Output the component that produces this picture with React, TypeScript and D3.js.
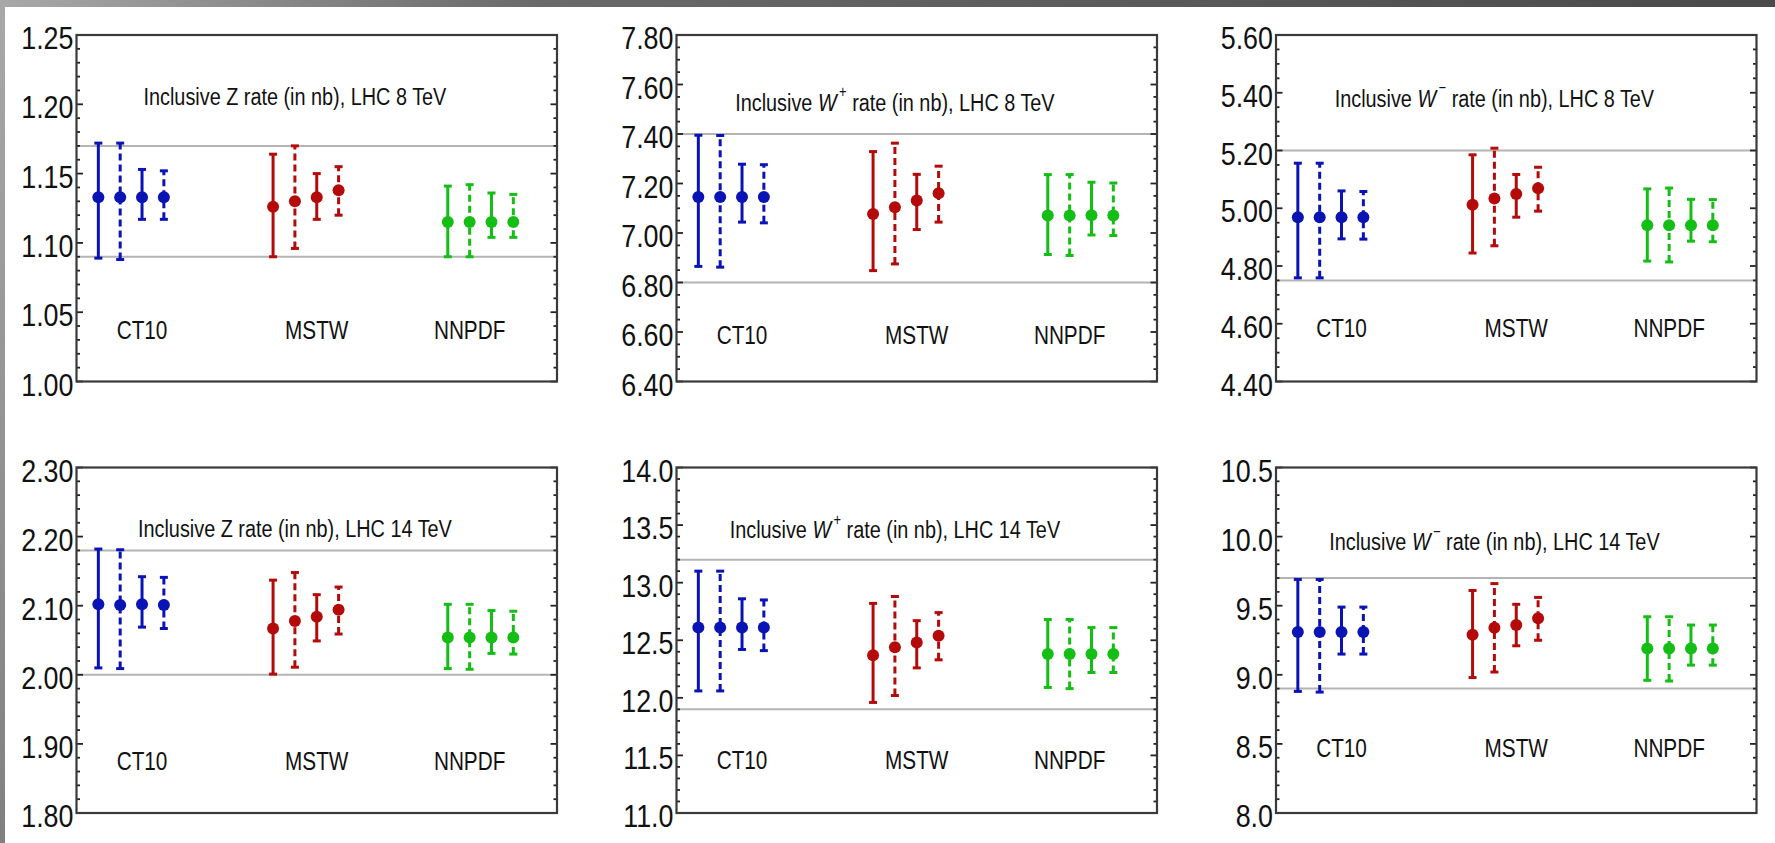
import React from "react";
import * as d3 from "d3";

// ---------- data ----------
const pdfSets = ["CT10", "MSTW", "NNPDF"];
const slotX = [1, 2, 3, 4, 9, 10, 11, 12, 17, 18, 19, 20];
const slotDashed = [false, true, false, true, false, true, false, true, false, true, false, true];
const slotSet = [0, 0, 0, 0, 1, 1, 1, 1, 2, 2, 2, 2];
const setLabelX = [3, 11, 18];
const setColors = ["#0a14b4", "#b40a0a", "#14be14"];

// Z, LHC 8 TeV
const z8Central = [1.133, 1.133, 1.133, 1.133, 1.126, 1.130, 1.133, 1.138, 1.115, 1.115, 1.115, 1.115];
const z8Upper = [1.172, 1.172, 1.153, 1.152, 1.164, 1.170, 1.150, 1.155, 1.141, 1.142, 1.136, 1.135];
const z8Lower = [1.089, 1.088, 1.117, 1.117, 1.090, 1.096, 1.117, 1.120, 1.090, 1.090, 1.104, 1.104];
const z8Ref = [1.09, 1.17];
const z8Ticks = ["1.00", "1.05", "1.10", "1.15", "1.20", "1.25"];

// W+, LHC 8 TeV
const wp8Central = [7.145, 7.145, 7.145, 7.145, 7.077, 7.104, 7.131, 7.161, 7.071, 7.071, 7.072, 7.071];
const wp8Upper = [7.395, 7.394, 7.278, 7.276, 7.329, 7.363, 7.237, 7.270, 7.236, 7.236, 7.205, 7.202];
const wp8Lower = [6.865, 6.862, 7.044, 7.041, 6.848, 6.875, 7.014, 7.044, 6.913, 6.909, 6.992, 6.990];
const wp8Ref = [6.8, 7.4];
const wp8Ticks = ["6.40", "6.60", "6.80", "7.00", "7.20", "7.40", "7.60", "7.80"];

// W-, LHC 8 TeV
const wm8Central = [4.969, 4.969, 4.969, 4.969, 5.012, 5.034, 5.049, 5.069, 4.941, 4.941, 4.941, 4.941];
const wm8Upper = [5.156, 5.156, 5.060, 5.058, 5.185, 5.208, 5.117, 5.142, 5.067, 5.070, 5.031, 5.030];
const wm8Lower = [4.759, 4.759, 4.894, 4.893, 4.845, 4.870, 4.969, 4.990, 4.817, 4.814, 4.886, 4.884];
const wm8Ref = [4.75, 5.2];
const wm8Ticks = ["4.40", "4.60", "4.80", "5.00", "5.20", "5.40", "5.60"];

// Z, LHC 14 TeV
const z14Central = [2.102, 2.101, 2.102, 2.101, 2.067, 2.078, 2.084, 2.094, 2.054, 2.054, 2.054, 2.054];
const z14Upper = [2.182, 2.181, 2.142, 2.141, 2.137, 2.148, 2.116, 2.127, 2.102, 2.102, 2.093, 2.092];
const z14Lower = [2.010, 2.009, 2.069, 2.067, 2.001, 2.011, 2.049, 2.059, 2.009, 2.008, 2.031, 2.030];
const z14Ref = [2.0, 2.18];
const z14Ticks = ["1.80", "1.90", "2.00", "2.10", "2.20", "2.30"];

// W+, LHC 14 TeV
const wp14Central = [12.61, 12.61, 12.61, 12.61, 12.37, 12.44, 12.48, 12.54, 12.38, 12.38, 12.38, 12.38];
const wp14Upper = [13.10, 13.10, 12.86, 12.85, 12.82, 12.88, 12.67, 12.74, 12.68, 12.68, 12.61, 12.61];
const wp14Lower = [12.06, 12.06, 12.42, 12.41, 11.96, 12.02, 12.26, 12.33, 12.09, 12.08, 12.22, 12.22];
const wp14Ref = [11.9, 13.2];
const wp14Ticks = ["11.0", "11.5", "12.0", "12.5", "13.0", "13.5", "14.0"];

// W-, LHC 14 TeV
const wm14Central = [9.31, 9.31, 9.31, 9.31, 9.29, 9.34, 9.36, 9.41, 9.19, 9.19, 9.19, 9.19];
const wm14Upper = [9.69, 9.69, 9.49, 9.49, 9.61, 9.66, 9.51, 9.56, 9.42, 9.42, 9.36, 9.36];
const wm14Lower = [8.88, 8.875, 9.15, 9.15, 8.98, 9.02, 9.21, 9.25, 8.96, 8.955, 9.07, 9.07];
const wm14Ref = [8.9, 9.7];
const wm14Ticks = ["8.0", "8.5", "9.0", "9.5", "10.0", "10.5"];

type Panel = {
  boson: string;
  sup: string;
  energy: string;
  central: number[];
  upper: number[];
  lower: number[];
  ref: number[];
  ticks: string[];
  minorStep: number;
  titleY: number;
  labelY: number;
};

const panels: Panel[] = [
  { boson: "Z", sup: "", energy: "8", central: z8Central, upper: z8Upper, lower: z8Lower, ref: z8Ref, ticks: z8Ticks, minorStep: 0.01, titleY: 1.206, labelY: 1.037 },
  { boson: "W", sup: "+", energy: "8", central: wp8Central, upper: wp8Upper, lower: wp8Lower, ref: wp8Ref, ticks: wp8Ticks, minorStep: 0.05, titleY: 7.53, labelY: 6.585 },
  { boson: "W", sup: "\u2212", energy: "8", central: wm8Central, upper: wm8Upper, lower: wm8Lower, ref: wm8Ref, ticks: wm8Ticks, minorStep: 0.05, titleY: 5.382, labelY: 4.585 },
  { boson: "Z", sup: "", energy: "14", central: z14Central, upper: z14Upper, lower: z14Lower, ref: z14Ref, ticks: z14Ticks, minorStep: 0.02, titleY: 2.212, labelY: 1.875 },
  { boson: "W", sup: "+", energy: "14", central: wp14Central, upper: wp14Upper, lower: wp14Lower, ref: wp14Ref, ticks: wp14Ticks, minorStep: 0.1, titleY: 13.46, labelY: 11.46 },
  { boson: "W", sup: "\u2212", energy: "14", central: wm14Central, upper: wm14Upper, lower: wm14Lower, ref: wm14Ref, ticks: wm14Ticks, minorStep: 0.1, titleY: 9.965, labelY: 8.47 },
];

// ---------- layout ----------
const W = 1775;
const H = 843;
const colLeft = [76.5, 676.5, 1276];
const panelW = 480.5;
const rowTop = [35, 467.5];
const rowBottom = [381.5, 813];
const FONT = "'Liberation Sans', Arial, Helvetica, sans-serif";

function PanelView({ p, idx }: { p: Panel; idx: number }) {
  const col = idx % 3;
  const row = Math.floor(idx / 3);
  const x0 = colLeft[col];
  const x1 = x0 + panelW;
  const y0 = rowTop[row];
  const y1 = rowBottom[row];
  const tickVals = p.ticks.map(Number);
  const lo = tickVals[0];
  const hi = tickVals[tickVals.length - 1];
  const x = d3.scaleLinear().domain([0, 22]).range([x0, x1]);
  const y = d3.scaleLinear().domain([lo, hi]).range([y1, y0]);
  const nMinor = Math.round((hi - lo) / p.minorStep);
  const minor = d3.range(nMinor + 1).map((i) => lo + i * p.minorStep);
  const majorStep = tickVals[1] - tickVals[0];
  const isMajor = (v: number) => Math.abs((v - lo) / majorStep - Math.round((v - lo) / majorStep)) < 1e-6;

  const tx = x(10);
  const ty = y(p.titleY);
  return (
    <g>
      {p.ref.map((r, i) => (
        <line key={"r" + i} x1={x0} x2={x1} y1={y(r)} y2={y(r)} stroke="#b4b4b4" strokeWidth={2} />
      ))}
      {minor.map((v, i) => {
        const len = isMajor(v) ? 6.5 : 3.5;
        const yy = y(v);
        return (
          <g key={"t" + i}>
            <line x1={x0} x2={x0 + len} y1={yy} y2={yy} stroke="#222" strokeWidth={1.8} />
            <line x1={x1} x2={x1 - len} y1={yy} y2={yy} stroke="#222" strokeWidth={1.8} />
          </g>
        );
      })}
      <rect x={x0} y={y0} width={x1 - x0} height={y1 - y0} fill="none" stroke="#3a3a3a" strokeWidth={2.2} />
      {p.ticks.map((t, i) => (
        <text
          key={"l" + i}
          transform={`translate(${x0 - 3},${y(tickVals[i]) + 14}) scale(0.84,1)`}
          textAnchor="end"
          fontFamily={FONT}
          fontSize={32}
          fill="#111"
        >
          {t}
        </text>
      ))}
      <text
        transform={`translate(${tx},${ty}) scale(0.81,1)`}
        textAnchor="middle"
        dominantBaseline="central"
        fontFamily={FONT}
        fontSize={24.5}
        fill="#111"
      >
        <tspan>Inclusive </tspan>
        {p.sup ? (
          <>
            <tspan fontStyle="italic">{p.boson}</tspan>
            <tspan fontSize={16} dx={3} dy={-10}>{p.sup}</tspan>
            <tspan dy={10}> rate (in nb), LHC {p.energy} TeV</tspan>
          </>
        ) : (
          <tspan>{p.boson} rate (in nb), LHC {p.energy} TeV</tspan>
        )}
      </text>
      {pdfSets.map((s, i) => (
        <text
          key={"c" + i}
          transform={`translate(${x(setLabelX[i])},${y(p.labelY)}) scale(0.83,1)`}
          textAnchor="middle"
          dominantBaseline="central"
          fontFamily={FONT}
          fontSize={25}
          fill="#111"
        >
          {s}
        </text>
      ))}
      {slotX.map((sx, i) => {
        const c = setColors[slotSet[i]];
        const xx = x(sx);
        const dash = slotDashed[i] ? "7,4" : undefined;
        return (
          <g key={"e" + i}>
            <line x1={xx} x2={xx} y1={y(p.lower[i])} y2={y(p.upper[i])} stroke={c} strokeWidth={3} strokeDasharray={dash} />
            <line x1={xx - 4} x2={xx + 4} y1={y(p.upper[i])} y2={y(p.upper[i])} stroke={c} strokeWidth={3} />
            <line x1={xx - 4} x2={xx + 4} y1={y(p.lower[i])} y2={y(p.lower[i])} stroke={c} strokeWidth={3} />
            <circle cx={xx} cy={y(p.central[i])} r={6} fill={c} />
          </g>
        );
      })}
    </g>
  );
}

export default function App() {
  return (
    <svg
      width={W}
      height={H}
      viewBox={`0 0 ${W} ${H}`}
      style={{ position: "absolute", left: 0, top: 0, background: "#fff" }}
    >
      <defs>
        <linearGradient id="topbar" x1="0" x2="1" y1="0" y2="0">
          <stop offset="0" stopColor="#a8a8a8" />
          <stop offset="0.3" stopColor="#6a6a6a" />
          <stop offset="1" stopColor="#4a4a4a" />
        </linearGradient>
        <linearGradient id="leftbar" x1="0" x2="0" y1="0" y2="1">
          <stop offset="0" stopColor="#a8a8a8" />
          <stop offset="1" stopColor="#808080" />
        </linearGradient>
      </defs>
      <rect x={0} y={0} width={W} height={H} fill="#fff" />
      <rect x={0} y={0} width={W} height={7} fill="url(#topbar)" />
      <rect x={0} y={0} width={5} height={H} fill="url(#leftbar)" />
      {panels.map((p, i) => (
        <PanelView key={i} p={p} idx={i} />
      ))}
    </svg>
  );
}
